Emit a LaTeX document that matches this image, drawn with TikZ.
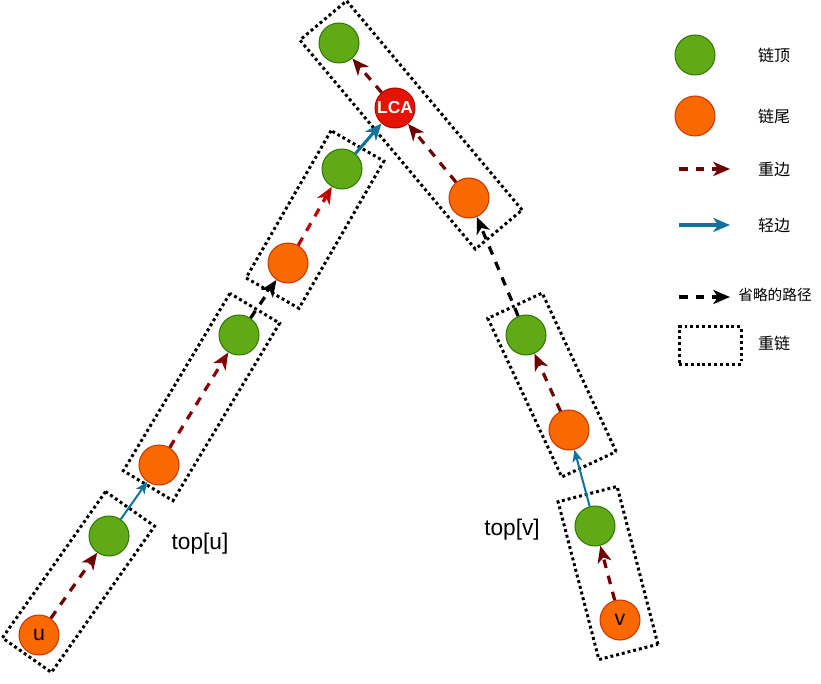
\documentclass[tikz,border=0pt]{standalone}
\usepackage{fontspec}
\setmainfont{Liberation Sans}
\newfontfamily\cjk{Noto Sans CJK SC}
\usetikzlibrary{arrows.meta}
\definecolor{gfill}{HTML}{60A917}
\definecolor{gline}{HTML}{2D7600}
\definecolor{ofill}{HTML}{FA6800}
\definecolor{oline}{HTML}{C73500}
\definecolor{rfill}{HTML}{E51400}
\definecolor{rline}{HTML}{B20000}
\definecolor{dred}{HTML}{6F0000}
\definecolor{mred}{HTML}{8A0000}
\definecolor{bred}{HTML}{C00000}
\definecolor{lblue}{HTML}{10739E}
\begin{document}
\begin{tikzpicture}[x=0.75pt,y=-0.75pt,
  vtx/.style={circle, minimum size=30pt, inner sep=0pt, line width=0.75pt, font=\fontsize{16}{16}\selectfont},
  gnode/.style={vtx, fill=gfill, draw=gline},
  onode/.style={vtx, fill=ofill, draw=oline},
  lcanode/.style={vtx, fill=rfill, draw=rline, text=white, font=\fontsize{13}{13}\selectfont\bfseries},
  bigtip/.style={-{Stealth[length=12.5pt,width=10.5pt,inset=3.5pt]}},
  smalltip/.style={-{Stealth[length=9pt,width=7.5pt,inset=2.5pt]}},
  heavy/.style={bigtip, draw=#1, line width=2.4pt, dash pattern=on 6.5pt off 6pt},
  heavy/.default=dred,
  lightthin/.style={smalltip, draw=lblue, line width=1.5pt},
  lightthick/.style={bigtip, draw=lblue, line width=2.3pt},
  omit/.style={bigtip, draw=black, line width=2.4pt, dash pattern=on 6.5pt off 6pt},
  chainbox/.style={rectangle, draw=black, line width=2.25pt, dash pattern=on 2.2pt off 2.2pt, inner sep=0pt},
  label/.style={font=\fontsize{17}{17}\selectfont, inner sep=0pt},
  legtext/.style={font=\cjk\fontsize{12}{12}\selectfont, inner sep=0pt}
]
\useasboundingbox (0,0) rectangle (821,684);

% heavy chain boxes
\node[chainbox, minimum width=134.25pt, minimum height=45pt, rotate=54.8] (boxA) at (78.5,582) {};
\node[chainbox, minimum width=155.25pt, minimum height=43.5pt, rotate=59] (boxB) at (201.5,397) {};
\node[chainbox, minimum width=127.5pt, minimum height=45.75pt, rotate=60] (boxC) at (315,219.5) {};
\node[chainbox, minimum width=204.75pt, minimum height=45.75pt, rotate=-50] (boxD) at (411,125) {};
\node[chainbox, minimum width=131.25pt, minimum height=45pt, rotate=-65] (boxE) at (552,385) {};
\node[chainbox, minimum width=122.25pt, minimum height=45.75pt, rotate=-75.5] (boxF) at (608,573) {};

% vertices
\node[onode] (u) at (39,635) {u};
\node[gnode] (t1) at (109,536) {};
\node[onode] (a2) at (159,465) {};
\node[gnode] (t2) at (239,335) {};
\node[onode] (a3) at (288,263) {};
\node[gnode] (t3) at (342,169) {};
\node[lcanode] (lca) at (395,108) {LCA};
\node[gnode] (top) at (339,43) {};
\node[onode] (b1) at (469,198) {};
\node[gnode] (t4) at (526,335) {};
\node[onode] (b2) at (569,430) {};
\node[gnode] (t5) at (595,526) {};
\node[onode] (v) at (620,620) {v};

% edges
\draw[heavy] (u) -- (t1);
\draw[lightthin] (t1) -- (a2);
\draw[heavy=mred] (a2) -- (t2);
\draw[omit] (t2) -- (a3);
\draw[heavy=bred] (a3) -- (t3);
\draw[lightthick] (t3) -- (lca);
\draw[heavy] (lca) -- (top);
\draw[heavy] (b1) -- (lca);
\draw[omit] (t4) -- (b1);
\draw[heavy] (b2) -- (t4);
\draw[lightthin] (t5) -- (b2);
\draw[heavy] (v) -- (t5);

% labels
\node[label] (ltu) at (200,544) {top[u]};
\node[label] (ltv) at (512,530) {top[v]};

% legend
\node[gnode] (lg1) at (695,55) {};
\node[legtext] (lt1) at (774,55) {链顶};
\node[onode] (lg2) at (695,116) {};
\node[legtext] (lt2) at (774,116) {链尾};
\coordinate (lh1) at (679,169);
\coordinate (lh2) at (730,169);
\draw[heavy] (lh1) -- (lh2);
\node[legtext] (lt3) at (774,169) {重边};
\coordinate (ll1) at (679,225);
\coordinate (ll2) at (730,225);
\draw[lightthick] (ll1) -- (ll2);
\node[legtext] (lt4) at (774,225) {轻边};
\coordinate (lo1) at (679,297);
\coordinate (lo2) at (730,297);
\draw[omit] (lo1) -- (lo2);
\node[legtext, font=\cjk\fontsize{11}{11}\selectfont] (lt5) at (775,295) {省略的路径};
\node[chainbox, minimum width=46.5pt, minimum height=27.75pt] (lbox) at (710,345.5) {};
\node[legtext] (lt6) at (774,343) {重链};
\end{tikzpicture}
\end{document}
